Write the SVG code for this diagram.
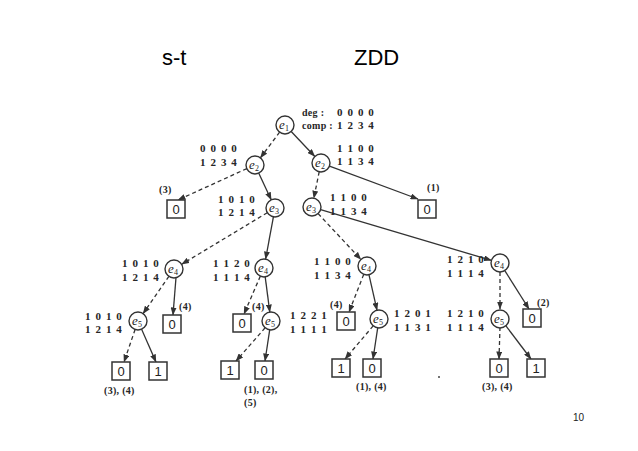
<svg xmlns="http://www.w3.org/2000/svg" width="638" height="451" viewBox="0 0 638 451">
<style>
.title{font-family:"Liberation Sans",Arial,sans-serif;font-size:22px;fill:#000}
.pg{font-family:"Liberation Sans",Arial,sans-serif;font-size:10px;fill:#222}
.v{font-family:"Liberation Serif","Times New Roman",serif;font-size:11px;font-weight:bold;fill:#262626;letter-spacing:1.1px}
.n{font-family:"Liberation Serif","Times New Roman",serif;font-size:10px;font-weight:bold;fill:#262626;letter-spacing:0.3px}
.nd circle{fill:#fff;stroke:#333;stroke-width:1.4}
.nd text{font-family:"Liberation Serif","Times New Roman",serif;font-style:italic;font-size:13px;fill:#222;text-anchor:middle}
.bx rect{fill:#fff;stroke:#333;stroke-width:1.5}
.bx text{font-family:"Liberation Sans",Arial,sans-serif;font-size:13px;fill:#222;text-anchor:middle}
.e{stroke:#333;stroke-width:1.3;fill:none;marker-end:url(#ah)}
.d{stroke-dasharray:4 3}
</style>
<defs>
<marker id="ah" markerWidth="8" markerHeight="6" refX="7.5" refY="3" orient="auto" markerUnits="userSpaceOnUse">
<path d="M0,0 L8,3 L0,6 z" fill="#333"/>
</marker>
</defs>
<rect width="638" height="451" fill="#fff"/>
<text class="title" x="162" y="65">s-t</text>
<text class="title" x="354" y="65">ZDD</text>
<text class="pg" x="573" y="421">10</text>

<g id="connectors">
<line class="e d" x1="279.6" y1="132.2" x2="260.4" y2="157.8"/>
<line class="e" x1="291.2" y1="131.5" x2="314.8" y2="156.5"/>
<line class="e d" x1="246.8" y1="168.6" x2="178" y2="200"/>
<line class="e" x1="258.8" y1="173.2" x2="271.2" y2="199.8"/>
<line class="e d" x1="319.2" y1="171.8" x2="313.8" y2="198.2"/>
<line class="e" x1="329.5" y1="166.1" x2="418" y2="199"/>
<line class="e d" x1="267.3" y1="212.7" x2="181.7" y2="264.3"/>
<line class="e" x1="273.4" y1="216.9" x2="265.6" y2="259.1"/>
<line class="e d" x1="318.1" y1="213.6" x2="360.9" y2="259.4"/>
<line class="e" x1="320.6" y1="209.6" x2="491.4" y2="260.4"/>
<line class="e d" x1="168.9" y1="276.4" x2="143.1" y2="313.6"/>
<line class="e" x1="176" y1="277.5" x2="173" y2="315"/>
<line class="e d" x1="260.3" y1="276.2" x2="244" y2="314"/>
<line class="e" x1="265.2" y1="276.9" x2="269.8" y2="312.1"/>
<line class="e d" x1="363.7" y1="274.4" x2="349" y2="312"/>
<line class="e" x1="369" y1="274.8" x2="377" y2="310.2"/>
<line class="e d" x1="500" y1="272" x2="500" y2="309"/>
<line class="e" x1="504.8" y1="270.6" x2="529" y2="309"/>
<line class="e d" x1="135.1" y1="329.5" x2="124" y2="362"/>
<line class="e" x1="141.6" y1="329.2" x2="156" y2="362"/>
<line class="e d" x1="265.1" y1="327.8" x2="236" y2="361"/>
<line class="e" x1="269.7" y1="329.9" x2="265" y2="361"/>
<line class="e d" x1="373.2" y1="325.9" x2="345" y2="359"/>
<line class="e" x1="377.7" y1="327.9" x2="373" y2="359"/>
<line class="e d" x1="500" y1="327" x2="499" y2="359"/>
<line class="e" x1="505.4" y1="325.2" x2="531" y2="359"/>
</g>

<g id="n-e1" class="nd"><circle cx="285" cy="125" r="9"/><text x="284" y="129">e<tspan font-size="8" font-style="normal" dy="2">1</tspan></text></g>
<g id="n-e2a" class="nd"><circle cx="255" cy="165" r="9"/><text x="254" y="169">e<tspan font-size="8" font-style="normal" dy="2">2</tspan></text></g>
<g id="n-e2b" class="nd"><circle cx="321" cy="163" r="9"/><text x="320" y="167">e<tspan font-size="8" font-style="normal" dy="2">2</tspan></text></g>
<g id="n-e3a" class="nd"><circle cx="275" cy="208" r="9"/><text x="274" y="212">e<tspan font-size="8" font-style="normal" dy="2">3</tspan></text></g>
<g id="n-e3b" class="nd"><circle cx="312" cy="207" r="9"/><text x="311" y="211">e<tspan font-size="8" font-style="normal" dy="2">3</tspan></text></g>
<g id="n-e4a" class="nd"><circle cx="174" cy="269" r="9"/><text x="173" y="273">e<tspan font-size="8" font-style="normal" dy="2">4</tspan></text></g>
<g id="n-e4b" class="nd"><circle cx="264" cy="268" r="9"/><text x="263" y="272">e<tspan font-size="8" font-style="normal" dy="2">4</tspan></text></g>
<g id="n-e4c" class="nd"><circle cx="367" cy="266" r="9"/><text x="366" y="270">e<tspan font-size="8" font-style="normal" dy="2">4</tspan></text></g>
<g id="n-e4d" class="nd"><circle cx="500" cy="263" r="9"/><text x="499" y="267">e<tspan font-size="8" font-style="normal" dy="2">4</tspan></text></g>
<g id="n-e5a" class="nd"><circle cx="138" cy="321" r="9"/><text x="137" y="325">e<tspan font-size="8" font-style="normal" dy="2">5</tspan></text></g>
<g id="n-e5b" class="nd"><circle cx="271" cy="321" r="9"/><text x="270" y="325">e<tspan font-size="8" font-style="normal" dy="2">5</tspan></text></g>
<g id="n-e5c" class="nd"><circle cx="379" cy="319" r="9"/><text x="378" y="323">e<tspan font-size="8" font-style="normal" dy="2">5</tspan></text></g>
<g id="n-e5d" class="nd"><circle cx="500" cy="319" r="9"/><text x="499" y="323">e<tspan font-size="8" font-style="normal" dy="2">5</tspan></text></g>

<g id="b-A" class="bx"><rect x="167" y="200" width="18" height="18"/><text x="176" y="214">0</text></g>
<g id="b-B" class="bx"><rect x="418" y="200" width="18" height="18"/><text x="427" y="214">0</text></g>
<g id="b-C" class="bx"><rect x="163" y="315" width="18" height="18"/><text x="172" y="329">0</text></g>
<g id="b-D" class="bx"><rect x="112" y="362" width="18" height="18"/><text x="121" y="376">0</text></g>
<g id="b-E" class="bx"><rect x="149" y="362" width="18" height="18"/><text x="158" y="376">1</text></g>
<g id="b-F" class="bx"><rect x="233" y="314" width="18" height="18"/><text x="242" y="328">0</text></g>
<g id="b-G" class="bx"><rect x="221" y="361" width="18" height="18"/><text x="230" y="375">1</text></g>
<g id="b-H" class="bx"><rect x="255" y="361" width="18" height="18"/><text x="264" y="375">0</text></g>
<g id="b-I" class="bx"><rect x="337" y="312" width="18" height="18"/><text x="346" y="326">0</text></g>
<g id="b-J" class="bx"><rect x="332" y="359" width="18" height="18"/><text x="341" y="373">1</text></g>
<g id="b-K" class="bx"><rect x="363" y="359" width="18" height="18"/><text x="372" y="373">0</text></g>
<g id="b-L" class="bx"><rect x="523" y="309" width="18" height="18"/><text x="532" y="323">0</text></g>
<g id="b-M" class="bx"><rect x="490" y="359" width="18" height="18"/><text x="499" y="373">0</text></g>
<g id="b-N" class="bx"><rect x="527" y="359" width="18" height="18"/><text x="536" y="373">1</text></g>

<g id="labels">
<text class="n" x="302" y="116" font-size="11">deg :</text>
<text class="v" x="337" y="116">0 0 0 0</text>
<text class="n" x="302" y="129" font-size="11">comp :</text>
<text class="v" x="337" y="129">1 2 3 4</text>
<text class="v" x="200" y="152">0 0 0 0</text>
<text class="v" x="200" y="166">1 2 3 4</text>
<text class="v" x="337" y="152">1 1 0 0</text>
<text class="v" x="337" y="165">1 1 3 4</text>
<text class="n" x="159" y="193">(3)</text>
<text class="n" x="427" y="191">(1)</text>
<text class="v" x="218" y="203">1 0 1 0</text>
<text class="v" x="218" y="216">1 2 1 4</text>
<text class="v" x="330" y="201">1 1 0 0</text>
<text class="v" x="330" y="215">1 1 3 4</text>
<text class="v" x="122" y="267">1 0 1 0</text>
<text class="v" x="122" y="281">1 2 1 4</text>
<text class="v" x="213" y="267">1 1 2 0</text>
<text class="v" x="213" y="281">1 1 1 4</text>
<text class="v" x="314" y="265">1 1 0 0</text>
<text class="v" x="314" y="279">1 1 3 4</text>
<text class="v" x="447" y="263">1 2 1 0</text>
<text class="v" x="447" y="277">1 1 1 4</text>
<text class="n" x="179" y="310">(4)</text>
<text class="v" x="85" y="320">1 0 1 0</text>
<text class="v" x="85" y="333">1 2 1 4</text>
<text class="n" x="252" y="310">(4)</text>
<text class="v" x="290" y="319">1 2 2 1</text>
<text class="v" x="290" y="333">1 1 1 1</text>
<text class="n" x="330" y="308">(4)</text>
<text class="v" x="394" y="317">1 2 0 1</text>
<text class="v" x="394" y="331">1 1 3 1</text>
<text class="v" x="447" y="317">1 2 1 0</text>
<text class="v" x="447" y="331">1 1 1 4</text>
<text class="n" x="537" y="306">(2)</text>
<text class="n" x="104" y="394">(3), (4)</text>
<text class="n" x="244" y="393">(1), (2),</text>
<text class="n" x="244" y="406">(5)</text>
<text class="n" x="356" y="390">(1), (4)</text>
<text class="n" x="482" y="390">(3), (4)</text>
</g>
<circle cx="439" cy="377" r="1" fill="#444"/>
</svg>
